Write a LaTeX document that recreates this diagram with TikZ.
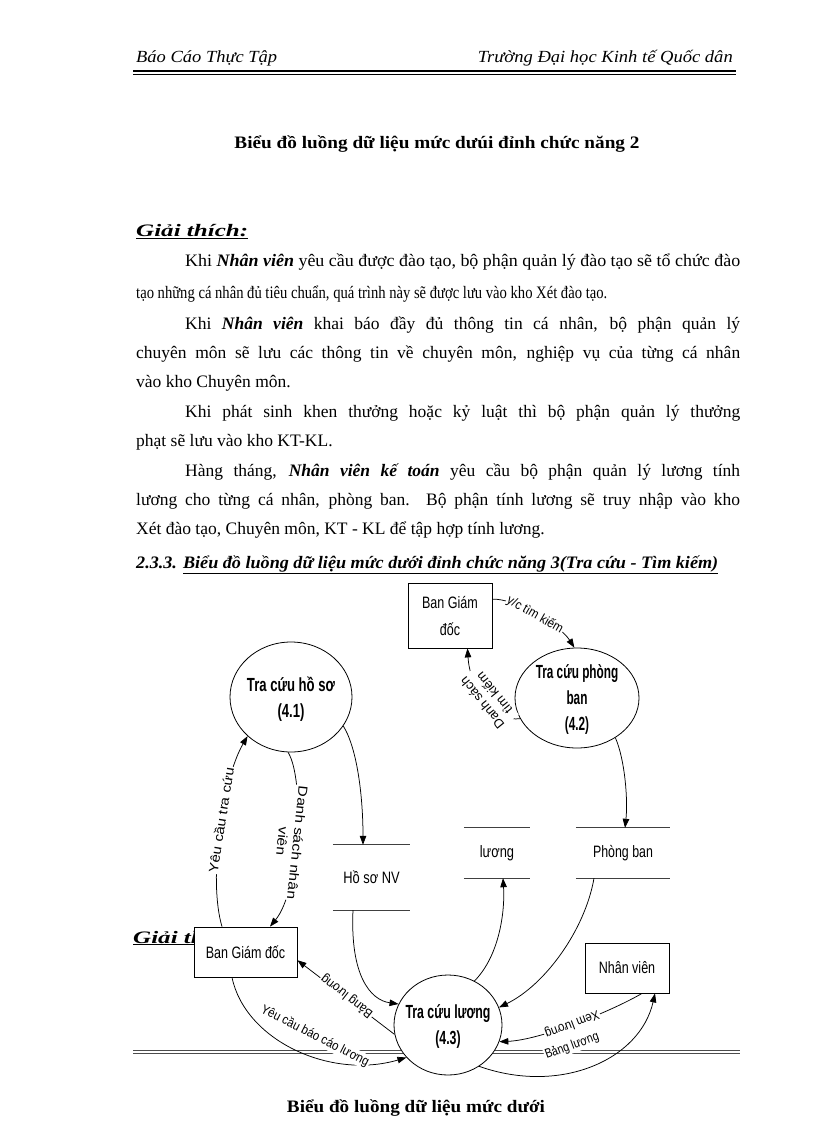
\documentclass[tikz,border=0pt]{standalone}
\usepackage{fontspec}
\usepackage{graphicx}
\setmainfont{Liberation Serif}
\newfontfamily\dfont{Liberation Sans}
\usetikzlibrary{shapes.geometric,arrows.meta}
\newcommand\fitw[2]{\resizebox{#1}{\height}{#2}}
\newcommand\sq[2]{\scalebox{#1}[1]{#2}}
\begin{document}
\begin{tikzpicture}[x=1pt,y=-1pt,
  body/.style={anchor=base west, inner sep=0, font=\fontsize{17.5}{20}\selectfont},
  proc/.style={ellipse, draw, line width=0.8pt, fill=white, inner sep=0},
  ptext/.style={inner sep=0, align=center, font=\dfont\bfseries\fontsize{19}{26}\selectfont},
  ent/.style={rectangle, draw, line width=0.8pt, fill=white, inner sep=0, align=center, font=\dfont\fontsize{16.5}{27}\selectfont},
  store/.style={inner sep=0, font=\dfont\fontsize{16.5}{20}\selectfont},
  storeline/.style={line width=1pt, black!75},
  flow/.style={line width=0.75pt, -{Triangle[length=9pt,width=6.5pt]}},
  lbl/.style={fill=white, inner sep=1pt, align=center, font=\dfont\fontsize{13}{15.5}\selectfont},
]
\fill[white] (0,0) rectangle (816,1123);
\useasboundingbox (0,0) rectangle (816,1123);

% ---------- page header ----------
\node[anchor=base west, inner sep=0, font=\itshape\fontsize{17}{20}\selectfont] (hl) at (136,63) {\fitw{141pt}{Báo Cáo Thực Tập}};
\node[anchor=base east, inner sep=0, font=\itshape\fontsize{17}{20}\selectfont] (hr) at (733,63) {\fitw{255pt}{Trường Đại học Kinh tế Quốc dân}};
\draw[line width=1.5pt] (133,71) -- (736,71);
\draw[line width=0.5pt] (133,73.8) -- (736,73.8);

\node[anchor=base, inner sep=0, font=\bfseries\fontsize{17.5}{20}\selectfont] (title) at (437,149) {\fitw{405pt}{Biểu đồ luồng dữ liệu mức dưúi đỉnh chức năng 2}};

\node[body, font=\bfseries\itshape\fontsize{17.5}{20}\selectfont] (gt) at (136,237) {\fitw{112pt}{\underline{Giải thích:}}};

\node[body] (l1) at (185,266) {\fitw{555pt}{Khi \textbf{\textit{Nhân viên}} yêu cầu được đào tạo, bộ phận quản lý đào tạo sẽ tổ chức đào}};
\node[body] (l2) at (136,298) {\fitw{471pt}{tạo những cá nhân đủ tiêu chuẩn, quá trình này sẽ được lưu vào kho Xét đào tạo.}};
\node[body] (l3) at (185,329) {\makebox[555pt][s]{Khi \textbf{\textit{Nhân viên}} khai báo đầy đủ thông tin cá nhân, bộ phận quản lý}};
\node[body] (l4) at (136,358) {\makebox[604pt][s]{chuyên môn sẽ lưu các thông tin về chuyên môn, nghiệp vụ của từng cá nhân}};
\node[body] (l5) at (136,387) {vào kho Chuyên môn.};
\node[body] (l6) at (185,417) {\makebox[555pt][s]{Khi phát sinh khen thưởng hoặc kỷ luật thì bộ phận quản lý thưởng}};
\node[body] (l7) at (136,446) {phạt sẽ lưu vào kho KT-KL.};
\node[body] (l8) at (185,476) {\makebox[555pt][s]{Hàng tháng, \textbf{\textit{Nhân viên kế toán}} yêu cầu bộ phận quản lý lương tính}};
\node[body] (l9) at (136,505) {\makebox[604pt][s]{lương cho từng cá nhân, phòng ban. Bộ phận tính lương sẽ truy nhập vào kho}};
\node[body] (l10) at (136,534) {Xét đào tạo, Chuyên môn, KT - KL để tập hợp tính lương.};
\node[body, font=\bfseries\itshape\fontsize{17.5}{20}\selectfont] (h233) at (136,568) {\fitw{582pt}{2.3.3. \underline{Biểu đồ luồng dữ liệu mức dưới đỉnh chức năng 3(Tra cứu - Tìm kiếm)}}};

% hidden heading under the diagram
\node[body, font=\bfseries\itshape\fontsize{17.5}{20}\selectfont] (gt2) at (133,943) {\fitw{112pt}{\underline{Giải thích:}}};

% double rule crossing the diagram
\draw[line width=0.7pt, black!70] (133,1050) -- (740,1050);
\draw[line width=0.7pt, black!70] (133,1053.5) -- (740,1053.5);

\node[anchor=base, inner sep=0, font=\bfseries\fontsize{17.5}{20}\selectfont] (foot) at (416,1112) {\fitw{258pt}{Biểu đồ luồng dữ liệu mức dưới}};

% ---------- diagram nodes ----------
\node[ent, minimum width=84pt, minimum height=65pt] (bgdT) at (450,615.5) {\sq{.76}{Ban Giám}\\\sq{.76}{đốc}};
\node[ent, minimum width=103pt, minimum height=50pt] (bgdB) at (245.5,952) {\sq{.76}{Ban Giám đốc}};
\node[ent, minimum width=84pt, minimum height=50pt] (nv) at (627,968) {\sq{.76}{Nhân viên}};

\node[proc, minimum width=122pt, minimum height=110pt] (p41) at (291,697) {};
\node[ptext] (t41) at (291,699) {\sq{.69}{Tra cứu hồ sơ}\\\sq{.69}{(4.1)}};
\node[proc, minimum width=124pt, minimum height=100pt] (p42) at (577,698) {};
\node[ptext] (t42) at (577,699) {\sq{.62}{Tra cứu phòng}\\\sq{.62}{ban}\\\sq{.62}{(4.2)}};
\node[proc, minimum width=108pt, minimum height=100pt] (p43) at (448,1025) {};
\node[ptext] (t43) at (448,1026) {\sq{.65}{Tra cứu lương}\\\sq{.65}{(4.3)}};

\node[store, minimum width=77pt, minimum height=65pt] (hs) at (371.5,877.5) {\sq{.78}{Hồ sơ NV}};
\node[store, minimum width=66pt, minimum height=50pt] (lg) at (497,853) {\sq{.78}{lương}};
\node[store, minimum width=94pt, minimum height=50pt] (pb) at (623,853) {\sq{.75}{Phòng ban}};
\foreach \s in {hs,lg,pb}{
  \draw[storeline] (\s.north west) -- (\s.north east);
  \draw[storeline] (\s.south west) -- (\s.south east);
}

% ---------- flows ----------
\draw[flow] (bgdT.21) .. controls (515,598) and (560,625) .. (p42.93);
\draw[flow] (p42.200) .. controls (495,722) and (470,690) .. (bgdT.-62);
\draw[flow] (p41.-29) .. controls (358,750) and (363,800) .. ([xshift=-8.5pt]hs.north);
\draw[flow] ([xshift=-23.5pt]bgdB.north) .. controls (208,880) and (222,780) .. (p41.-138);
\draw[flow] (p41.-93) .. controls (305,780) and (300,890) .. ([xshift=24.5pt]bgdB.north);
\draw[flow] ([xshift=-18.5pt]hs.south) .. controls (350,975) and (370,1000) .. (p43.157);
\draw[flow] (p43.59) .. controls (500,955) and (505,910) .. ([xshift=6pt]lg.south);
\draw[flow] ([xshift=-29pt]pb.south) .. controls (585,930) and (545,985) .. (p43.19);
\draw[flow] (p42.-46) .. controls (625,760) and (628,800) .. ([xshift=2pt]pb.north);
\draw[flow] (p43.190) -- (bgdB.-9);
\draw[flow] ([xshift=-13.5pt]bgdB.south) .. controls (245,1040) and (330,1080) .. (p43.218);
\draw[flow] ([xshift=15pt]nv.south) .. controls (610,1012) and (540,1040) .. (p43.-18);
\draw[flow] (p43.-53) .. controls (560,1095) and (640,1060) .. ([xshift=28pt]nv.south);

% ---------- flow labels ----------
\node[lbl, rotate=-30] (lA) at (535,615) {\sq{.9}{y/c tìm kiếm}};
\node[lbl, rotate=129] (lB) at (488,698) {\sq{1.0}{Danh sách}\\\sq{1.0}{tìm kiếm}};
\node[lbl, rotate=81] (lD) at (221,820) {\sq{1.15}{Yêu cầu tra cứu}};
\node[lbl, rotate=-96] (lE) at (290,842) {\sq{1.2}{Danh sách nhân}\\\sq{1.2}{viên}};
\node[lbl, rotate=142] (lJ) at (347,996) {\sq{.91}{Bảng lương}};
\node[lbl, rotate=-27] (lK) at (315,1036) {\sq{.88}{Yêu cầu báo cáo lương}};
\node[lbl, rotate=201] (lL) at (572,1024) {\sq{.88}{Xem lương}};
\node[lbl, rotate=20] (lM) at (572,1046) {\sq{.82}{Bảng lương}};
\end{tikzpicture}
\end{document}
